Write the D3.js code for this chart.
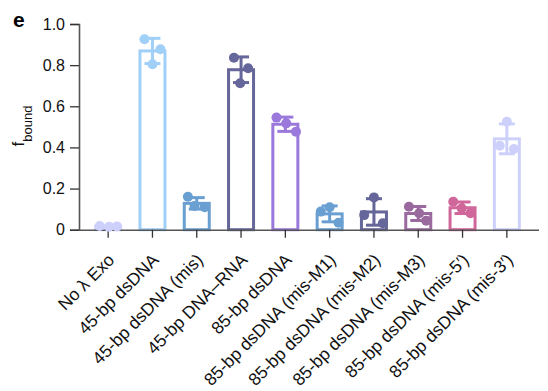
<!DOCTYPE html>
<html>
<head>
<meta charset="utf-8">
<script src="https://cdn.jsdelivr.net/npm/d3@7"></script>
<style>
  body { margin: 0; background: #fff; }
  text { font-family: "Liberation Sans", Arial, sans-serif; }
</style>
</head>
<body>
<div id="chart"></div>
<script>
// f_bound per construct, three replicates each
var categories = ["No \u03bb Exo", "45-bp dsDNA", "45-bp dsDNA (mis)", "45-bp DNA\u2013RNA",
  "85-bp dsDNA", "85-bp dsDNA (mis-M1)", "85-bp dsDNA (mis-M2)", "85-bp dsDNA (mis-M3)",
  "85-bp dsDNA (mis-5\u2032)", "85-bp dsDNA (mis-3\u2032)"];
var replicates = [
  [0.018, 0.014, 0.016],
  [0.926, 0.877, 0.804],
  [0.160, 0.115, 0.109],
  [0.836, 0.785, 0.712],
  [0.545, 0.517, 0.476],
  [0.088, 0.109, 0.034],
  [0.071, 0.157, 0.031],
  [0.112, 0.080, 0.044],
  [0.136, 0.104, 0.080],
  [0.408, 0.525, 0.392]
];
// horizontal spread of the dots, as fraction of the band step
var jitter = [
  [-0.19, 0.02, 0.2],
  [-0.18, 0.18, 0],
  [-0.2, -0.05, 0.18],
  [-0.16, 0.16, -0.02],
  [-0.2, 0.02, 0.24],
  [-0.2, 0, 0.2],
  [-0.22, 0, 0.2],
  [-0.21, 0.02, 0.18],
  [-0.21, -0.02, 0.18],
  [-0.16, 0, 0.16]
];
var colors = ["#cdd0fa", "#a0cff8", "#6a9fd2", "#65669a", "#9b78dc",
  "#6a9fd2", "#65669a", "#9a6a9e", "#d0679a", "#cdd0fa"];
var yTicks = [0, 0.2, 0.4, 0.6, 0.8, 1.0];

var width = 548, height = 391;

var svg = d3.select("#chart").append("svg")
  .attr("width", width)
  .attr("height", height);

var x = d3.scaleBand()
  .domain(categories)
  .range([86, 529]);

var y = d3.scaleLinear()
  .domain([0, 1])
  .range([229.7, 24]);

var data = categories.map(function(c, i) {
  var v = replicates[i];
  return { name: c, vals: v, mean: d3.mean(v), sd: d3.deviation(v), color: colors[i], jit: jitter[i] };
});

// bars (outlined)
var barW = 25;
svg.append("g").selectAll("rect")
  .data(data)
  .enter().append("rect")
  .attr("x", function(d) { return x(d.name) + x.bandwidth() / 2 - barW / 2; })
  .attr("y", function(d) { return y(d.mean); })
  .attr("width", barW)
  .attr("height", function(d) { return y(0) - y(d.mean); })
  .attr("fill", "none")
  .attr("stroke", function(d) { return d.color; })
  .attr("stroke-width", 3);

// axes
var yAxis = svg.append("g")
  .attr("transform", "translate(79,0)")
  .call(d3.axisLeft(y).tickValues(yTicks)
    .tickFormat(function(d) { return d === 0 ? "0" : d3.format(".1f")(d); })
    .tickSize(9).tickPadding(5));

var xAxis = svg.append("g")
  .attr("transform", "translate(0," + y(0) + ")")
  .call(d3.axisBottom(x).tickSize(8).tickSizeOuter(0).tickFormat(""));

xAxis.select(".domain").attr("d", "M79,0.5H539");

[yAxis, xAxis].forEach(function(a) {
  a.select(".domain").attr("stroke", "#555").attr("stroke-width", 1.6);
  a.selectAll(".tick line").attr("stroke", "#333").attr("stroke-width", 1.3);
});
yAxis.selectAll("text").attr("font-size", 16).attr("fill", "#111");

// rotated category labels
svg.append("g").selectAll("text")
  .data(categories)
  .enter().append("text")
  .attr("transform", function(d) {
    return "translate(" + (x(d) + x.bandwidth() / 2 + 3) + "," + (y(0) + 27) + ") rotate(-45)";
  })
  .attr("text-anchor", "end")
  .attr("dy", "0.35em")
  .attr("font-size", 17.5)
  .attr("fill", "#111")
  .text(function(d) { return d; });

// error bars (mean +/- SD)
var err = svg.append("g").selectAll("g")
  .data(data)
  .enter().append("g")
  .attr("stroke", function(d) { return d.color; })
  .attr("stroke-width", 3);

err.append("line")
  .attr("x1", function(d) { return x(d.name) + x.bandwidth() / 2; })
  .attr("x2", function(d) { return x(d.name) + x.bandwidth() / 2; })
  .attr("y1", function(d) { return y(d.mean + d.sd); })
  .attr("y2", function(d) { return y(Math.max(0, d.mean - d.sd)); });

err.selectAll(".cap")
  .data(function(d) { return [d.mean + d.sd, Math.max(0, d.mean - d.sd)].map(function(v) { return { d: d, v: v }; }); })
  .enter().append("line")
  .attr("class", "cap")
  .attr("x1", function(c) { return x(c.d.name) + x.bandwidth() / 2 - 8; })
  .attr("x2", function(c) { return x(c.d.name) + x.bandwidth() / 2 + 8; })
  .attr("y1", function(c) { return y(c.v); })
  .attr("y2", function(c) { return y(c.v); });

// replicate dots
svg.append("g").selectAll("g")
  .data(data)
  .enter().append("g")
  .selectAll("circle")
  .data(function(d) { return d.vals.map(function(v, i) { return { d: d, v: v, j: d.jit[i] }; }); })
  .enter().append("circle")
  .attr("cx", function(p) { return x(p.d.name) + x.bandwidth() / 2 + p.j * x.step(); })
  .attr("cy", function(p) { return y(p.v); })
  .attr("r", 5)
  .attr("fill", function(p) { return p.d.color; });

// y label
svg.append("text")
  .attr("transform", "translate(24,126) rotate(-90)")
  .attr("text-anchor", "middle")
  .attr("font-size", 17)
  .attr("fill", "#111")
  .html('f<tspan baseline-shift="sub" font-size="13">bound</tspan>');

// panel letter
svg.append("text")
  .attr("x", 13)
  .attr("y", 27)
  .attr("font-size", 21)
  .attr("font-weight", "bold")
  .attr("fill", "#000")
  .text("e");
</script>
</body>
</html>
